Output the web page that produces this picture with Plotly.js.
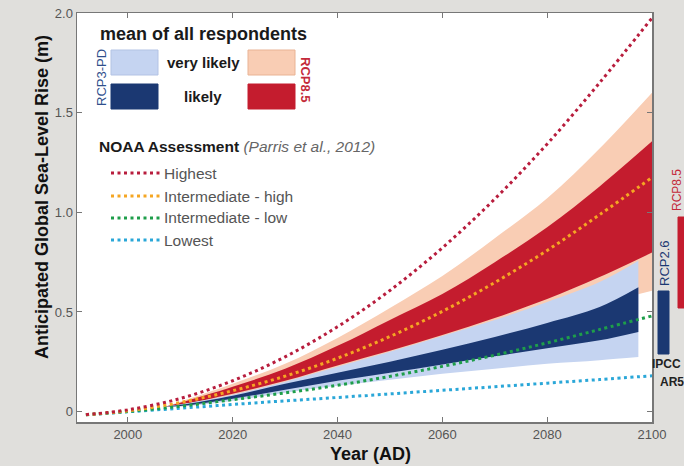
<!DOCTYPE html>
<html><head><meta charset="utf-8">
<script src="https://cdn.plot.ly/plotly-3.0.1.min.js"></script>
<style>html,body{margin:0;padding:0;background:#e0dfdc;}#chart{width:684px;height:466px;}</style>
</head><body><div id="chart"></div>
<script>
// NOAA scenario curves (m)
const years = [1992, 2000, 2010, 2020, 2030, 2040, 2050, 2060, 2070, 2080, 2090, 2100];
const highest = [-0.015, 0.009, 0.066, 0.155, 0.275, 0.426, 0.608, 0.822, 1.067, 1.343, 1.650, 1.975];
const intHigh = [-0.015, 0.004, 0.046, 0.105, 0.178, 0.268, 0.377, 0.503, 0.648, 0.809, 0.988, 1.175];
const intLow = [-0.015, 0.001, 0.027, 0.060, 0.094, 0.132, 0.177, 0.227, 0.283, 0.345, 0.412, 0.480];
const lowest = [-0.016, -0.001, 0.017, 0.036, 0.054, 0.071, 0.089, 0.107, 0.125, 0.143, 0.161, 0.180];

// Expert survey bands (m)
const redYears = [2007, 2010, 2020, 2030, 2040, 2050, 2060, 2070, 2080, 2090, 2100];
const blueYears = [2007, 2010, 2020, 2030, 2040, 2050, 2060, 2070, 2080, 2090, 2097.4];
const rcp85VeryLikelyHigh = [0.025, 0.05, 0.14, 0.24, 0.37, 0.52, 0.68, 0.87, 1.07, 1.32, 1.60];
const rcp85VeryLikelyLow  = [0.025, 0.033, 0.08, 0.135, 0.195, 0.26, 0.33, 0.40, 0.47, 0.54, 0.607];
const rcp85LikelyHigh     = [0.025, 0.045, 0.125, 0.215, 0.33, 0.46, 0.59, 0.75, 0.925, 1.13, 1.356];
const rcp85LikelyLow      = [0.025, 0.035, 0.09, 0.155, 0.232, 0.305, 0.385, 0.47, 0.565, 0.675, 0.798];
const rcp3VeryLikelyHigh  = [0.025, 0.037, 0.085, 0.15, 0.225, 0.30, 0.38, 0.46, 0.55, 0.65, 0.757];
const rcp3VeryLikelyLow   = [0.025, 0.025, 0.055, 0.095, 0.13, 0.16, 0.19, 0.215, 0.24, 0.258, 0.274];
const rcp3LikelyHigh      = [0.025, 0.034, 0.08, 0.14, 0.195, 0.25, 0.31, 0.375, 0.445, 0.525, 0.624];
const rcp3LikelyLow       = [0.025, 0.028, 0.065, 0.11, 0.155, 0.195, 0.237, 0.278, 0.318, 0.358, 0.40];

// Tick labels
const xTicks = [2000, 2020, 2040, 2060, 2080, 2100];
const yTicks = [0, 0.5, 1.0, 1.5, 2.0];
const yTickText = ['0', '0.5', '1.0', '1.5', '2.0'];

const noaaNames = ['Highest', 'Intermediate - high', 'Intermediate - low', 'Lowest'];

const C = {
  peach: '#f9cdb4', red: '#c41c2e', lightBlue: '#c5d4f1', navy: '#1b3872',
  hi: '#b81d3d', ih: '#f5a623', il: '#1e9e4a', lo: '#2aa7d8'
};
const FONT = 'Liberation Sans, Arial, sans-serif';

function band(xs, hi, lo, color) {
  return [
    {x: xs, y: lo, type: 'scatter', mode: 'lines', line: {width: 0, color: color, shape: 'spline'},
     hoverinfo: 'skip', showlegend: false},
    {x: xs, y: hi, type: 'scatter', mode: 'lines', fill: 'tonexty', fillcolor: color,
     line: {width: 0, color: color, shape: 'spline'}, hoverinfo: 'skip', showlegend: false}
  ];
}
function dotted(ys, color) {
  return {x: years, y: ys, type: 'scatter', mode: 'lines',
    line: {color: color, width: 3, dash: '3px,3.5px', shape: 'spline'},
    showlegend: false, hoverinfo: 'skip'};
}

const traces = [].concat(
  band(redYears, rcp85VeryLikelyHigh, rcp85VeryLikelyLow, C.peach),
  band(redYears, rcp85LikelyHigh, rcp85LikelyLow, C.red),
  band(blueYears, rcp3VeryLikelyHigh, rcp3VeryLikelyLow, C.lightBlue),
  band(blueYears, rcp3LikelyHigh, rcp3LikelyLow, C.navy),
  [dotted(lowest, C.lo), dotted(intLow, C.il), dotted(intHigh, C.ih), dotted(highest, C.hi)]
);

// pixel -> paper helpers (plot area 77..652 x 13..422)
const L = 77, T = 13, W = 575, H = 409;
const px = v => (v - L) / W;
const py = v => (T + H - v) / H;

const ann = [];
function A(text, x, y, opts) {
  ann.push(Object.assign({text: text, x: px(x), y: py(y), xref: 'paper', yref: 'paper',
    showarrow: false, xanchor: 'center', yanchor: 'middle',
    font: {family: FONT, size: 15, color: '#1a1a1a'}}, opts || {}));
}
A('<b>mean of all respondents</b>', 98, 34, {xanchor: 'left', font: {family: FONT, size: 18, color: '#1a1a1a'}});
A('<b>very likely</b>', 203, 62);
A('<b>likely</b>', 203, 96);
A('RCP3-PD', 101, 78, {textangle: -90, font: {family: FONT, size: 13, color: '#2f4f8c'}});
A('<b>RCP8.5</b>', 306, 80, {textangle: 90, font: {family: FONT, size: 13, color: '#c42a3a'}});
A('<b>NOAA Assessment</b> <i><span style="color:#666">(Parris et al., 2012)</span></i>', 97, 146, {xanchor: 'left', font: {family: FONT, size: 15.5, color: '#1a1a1a'}});
const legY = [173, 196, 218, 240];
noaaNames.forEach((n, i) => A(n, 162, legY[i], {xanchor: 'left', font: {family: FONT, size: 15.5, color: '#555'}}));
A('RCP2.6', 664, 263, {textangle: -90, font: {family: FONT, size: 13, color: '#1b3872'}});
A('RCP8.5', 677, 190, {textangle: -90, font: {family: FONT, size: 12, color: '#c42a3a'}});
A('<b>IPCC</b>', 683, 364, {xanchor: 'right', font: {family: FONT, size: 12, color: '#222'}});
A('<b>AR5</b>', 672, 382, {font: {family: FONT, size: 12, color: '#222'}});
A('<b>Anticipated Global Sea-Level Rise (m)</b>', 42, 197, {textangle: -90, font: {family: FONT, size: 18, color: '#111'}});
A('<b>Year (AD)</b>', 370, 454, {font: {family: FONT, size: 18, color: '#111'}});

const shapes = [];
function R(x0, y0, x1, y1, fill, line) {
  shapes.push({type: 'rect', xref: 'paper', yref: 'paper', x0: px(x0), x1: px(x1), y0: py(y0), y1: py(y1),
    fillcolor: fill, line: {color: line || fill, width: 1}});
}
R(111, 50, 158, 75, C.lightBlue, '#b3c3e4');
R(111, 84, 158, 109, C.navy);
R(248, 50, 295, 75, C.peach, '#e9b394');
R(248, 84, 295, 109, C.red);
R(658, 291, 669, 354, C.navy);
R(678, 217, 690, 308, C.red);
const legColors = [C.hi, C.ih, C.il, C.lo];
legColors.forEach((c, i) => shapes.push({type: 'line', xref: 'paper', yref: 'paper',
  x0: px(111), x1: px(160), y0: py(legY[i]), y1: py(legY[i]),
  line: {color: c, width: 3, dash: '3px,3.5px'}}));

const layout = {
  width: 684, height: 466,
  margin: {l: L, r: 684 - L - W, t: T, b: 466 - T - H},
  paper_bgcolor: '#e0dfdc', plot_bgcolor: '#ffffff',
  showlegend: false,
  xaxis: {range: [1990.3, 2100], tickvals: xTicks, ticks: 'inside', ticklen: 5, tickcolor: '#777',
    mirror: 'ticks', showline: true, linecolor: '#777', linewidth: 1.5, showgrid: false, zeroline: false,
    tickfont: {family: FONT, size: 13, color: '#555'}, fixedrange: true},
  yaxis: {range: [-0.052, 2.0], tickvals: yTicks, ticktext: yTickText, ticks: 'inside', ticklen: 5, tickcolor: '#777',
    mirror: 'ticks', showline: true, linecolor: '#777', linewidth: 1.5, showgrid: false, zeroline: false,
    tickfont: {family: FONT, size: 13, color: '#555'}, fixedrange: true},
  annotations: ann,
  shapes: shapes
};
Plotly.newPlot('chart', traces, layout, {staticPlot: true, displayModeBar: false});
</script></body></html>
